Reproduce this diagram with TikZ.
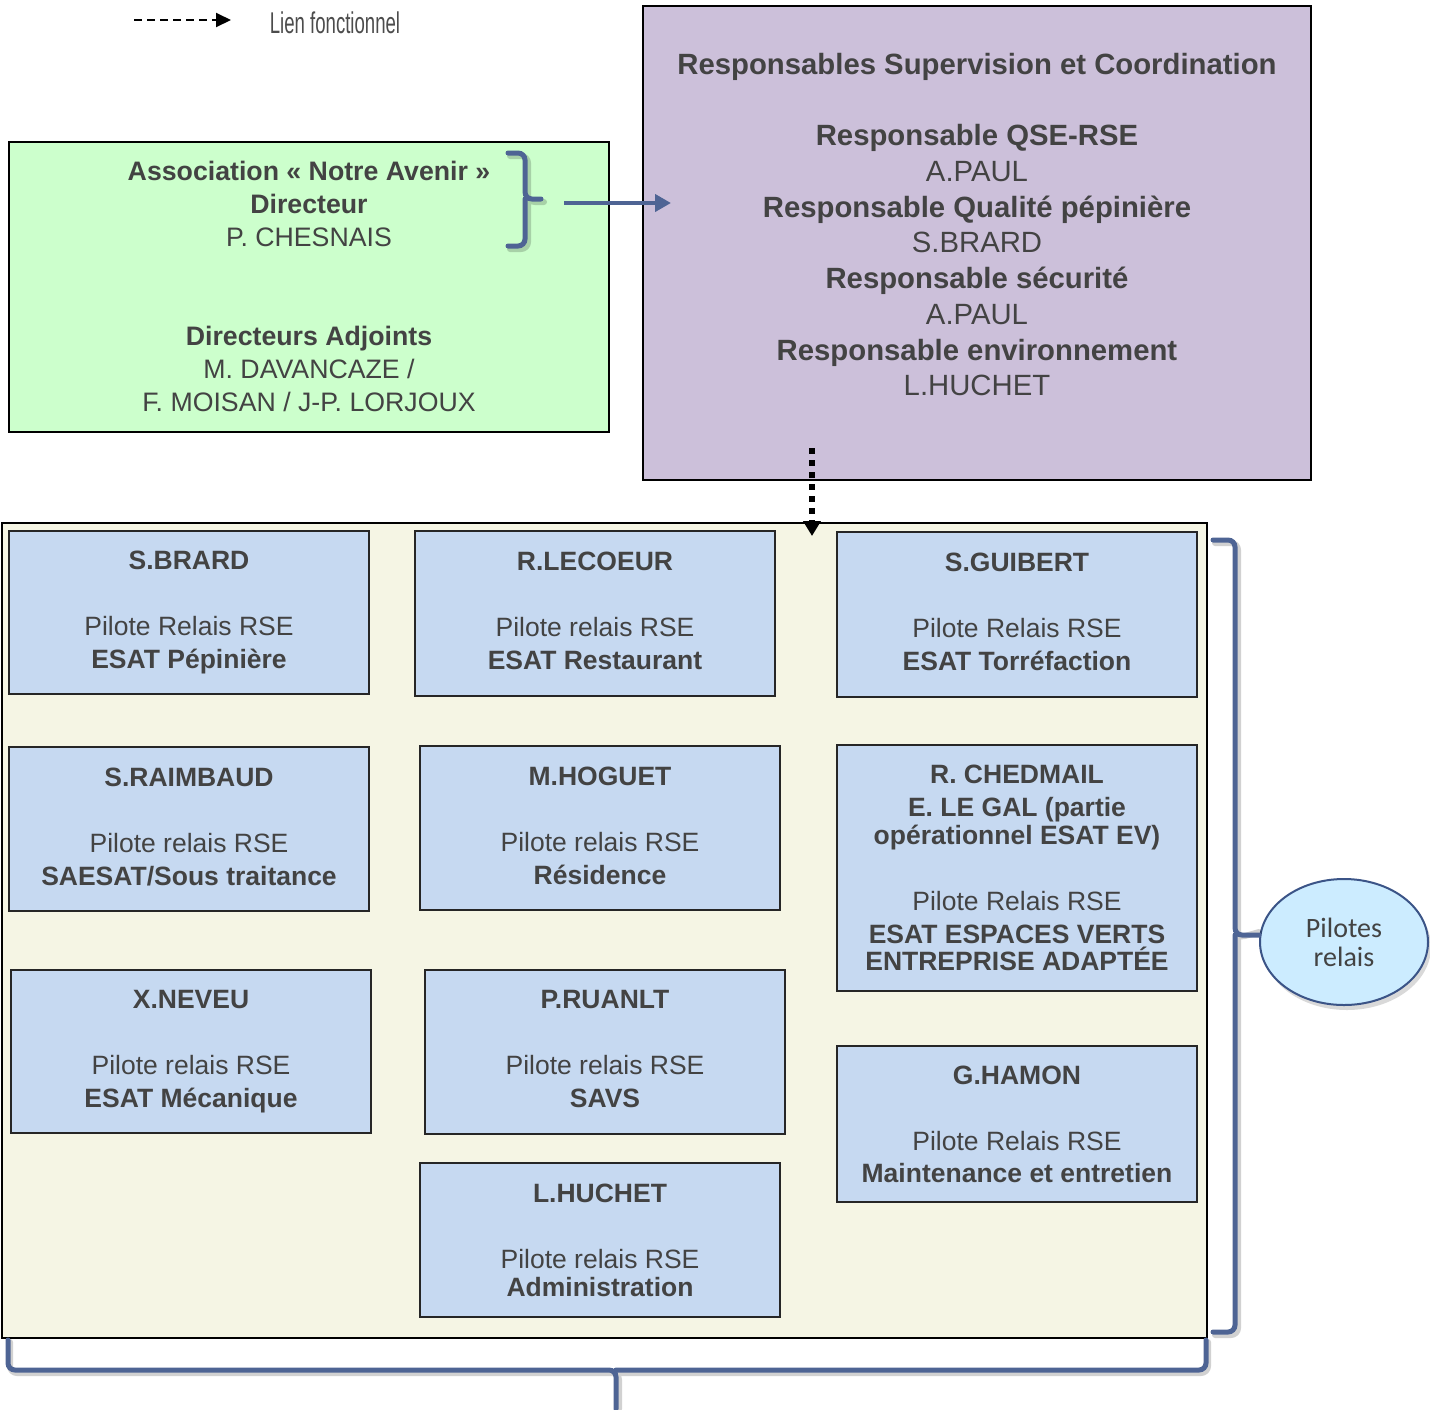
\documentclass[tikz,border=0pt]{standalone}
\usepackage{fontspec}
\setmainfont{Liberation Sans}
\newfontfamily\narrowfont[FakeStretch=0.62]{Liberation Sans}
\newfontfamily\calibfont{Carlito}
\usetikzlibrary{arrows.meta,shapes.geometric}

\definecolor{txt}{HTML}{434343}
\definecolor{greenfill}{HTML}{CCFFCC}
\definecolor{purplefill}{HTML}{CCC0DA}
\definecolor{tanfill}{HTML}{F5F5E4}
\definecolor{bluefill}{HTML}{C6D9F1}
\definecolor{bracecol}{HTML}{4E6494}
\definecolor{ellfill}{HTML}{CCECFF}
\definecolor{ellline}{HTML}{3B5487}

% descender strut so the short boxes centre their text the same way
\newcommand{\dsc}{\vphantom{p}}

\tikzset{
  pilotbox/.style={draw=black!85, fill=bluefill, line width=2pt, minimum width=360pt,
    inner sep=0pt, align=center, text=txt, font=\fontsize{26.5}{33}\selectfont},
  bigbox/.style={draw=black, line width=2pt, inner sep=0pt},
  bracepath/.style={draw=bracecol, line width=5pt, rounded corners=7pt, line cap=round},
  braceshadow/.style={draw=black, opacity=0.18, line width=6pt, rounded corners=7pt, line cap=round}
}

\begin{document}
\begin{tikzpicture}[x=1pt,y=-1pt]
\useasboundingbox (0,0) rectangle (1430,1409);

% legend
\coordinate (legA) at (134,20);
\coordinate (legB) at (231,20);
\draw[line width=2pt, dash pattern=on 8pt off 5pt, -{Triangle[length=15pt,width=14pt]}] (legA) -- (legB);
\node[text=black!70, font=\narrowfont\fontsize{30}{34}\selectfont] (legtext) at (335,23) {Lien fonctionnel};

% association box
\node[bigbox, fill=greenfill, minimum width=600pt, minimum height=290pt] (asso) at (309,287) {};
\node[align=center, text=txt, inner sep=0pt, font=\fontsize{26.7}{33}\selectfont] (assotext) at (309,286)
  {\textbf{Association « Notre Avenir »}\\ \textbf{Directeur}\\ P. CHESNAIS\\[66pt]
   \textbf{Directeurs Adjoints}\\ M. DAVANCAZE /\\ F. MOISAN / J-P. LORJOUX};

% supervision box
\node[bigbox, fill=purplefill, minimum width=668pt, minimum height=474pt] (rsc) at (977,243) {};
\node[anchor=north, align=center, text=txt, inner sep=0pt, font=\fontsize{29.3}{35.7}\selectfont] (rsctext) at (977,53)
  {\textbf{Responsables Supervision et Coordination}\\[35.7pt]
   \textbf{Responsable QSE-RSE}\\ A.PAUL\\
   \textbf{Responsable Qualité pépinière}\\ S.BRARD\\
   \textbf{Responsable sécurité}\\ A.PAUL\\
   \textbf{Responsable environnement}\\ L.HUCHET};

% brace inside the association box and arrow
\draw[braceshadow] (510,156) -- (528,156) -- (528,202) -- (544,202) (528,202) -- (528,249) -- (510,249);
\draw[bracepath] (508,153) -- (525,153) -- (525,199) -- (541,199) (525,199) -- (525,246) -- (508,246);
\coordinate (arrS) at (564,203);
\coordinate (arrE) at (671,203);
\draw[draw=bracecol, line width=4.5pt, -{Triangle[length=16pt,width=17pt]}] (arrS) -- (arrE);

% pilots area
\node[bigbox, fill=tanfill, minimum width=1205pt, minimum height=815pt] (area) at (604.5,930.5) {};

% functional link
\coordinate (dotS) at (812,448);
\coordinate (dotE) at (812,536);
\draw[line width=6pt, dash pattern=on 6pt off 6pt, -{Triangle[length=15pt,width=17pt]}] (dotS) -- (dotE);

% pilot boxes
\node[pilotbox, minimum height=163pt] (p1) at (189,612.5)
  {\textbf{S.BRARD}\\[33pt] Pilote Relais RSE\\ \textbf{ESAT Pépinière}\dsc};
\node[pilotbox, minimum height=165pt] (p2) at (595,613.5)
  {\textbf{R.LECOEUR}\\[33pt] Pilote relais RSE\\ \textbf{ESAT Restaurant}\dsc};
\node[pilotbox, minimum height=165pt] (p3) at (1017,614.5)
  {\textbf{S.GUIBERT}\\[33pt] Pilote Relais RSE\\ \textbf{ESAT Torréfaction}\dsc};
\node[pilotbox, minimum height=164pt] (p4) at (189,829)
  {\textbf{S.RAIMBAUD}\\[33pt] Pilote relais RSE\\ \textbf{SAESAT/Sous traitance}\dsc};
\node[pilotbox, minimum height=164pt] (p5) at (600,828)
  {\textbf{M.HOGUET}\\[33pt] Pilote relais RSE\\ \textbf{Résidence}\dsc};
\node[pilotbox, minimum height=246pt] (p6) at (1017,868)
  {\textbf{R. CHEDMAIL}\\ \textbf{E. LE GAL (partie}\\[-5pt] \textbf{opérationnel ESAT EV)}\\[33pt]
   Pilote Relais RSE\\ \textbf{ESAT ESPACES VERTS}\\[-6pt] \textbf{ENTREPRISE ADAPTÉE}};
\node[pilotbox, minimum height=163pt] (p7) at (191,1051.5)
  {\textbf{X.NEVEU}\\[33pt] Pilote relais RSE\\ \textbf{ESAT Mécanique}\dsc};
\node[pilotbox, minimum height=164pt] (p8) at (605,1052)
  {\textbf{P.RUANLT}\\[33pt] Pilote relais RSE\\ \textbf{SAVS}\dsc};
\node[pilotbox, minimum height=156pt] (p9) at (1017,1124)
  {\textbf{G.HAMON}\\[33pt] Pilote Relais RSE\\[-1pt] \textbf{Maintenance et entretien}};
\node[pilotbox, minimum height=154pt] (p10) at (600,1240)
  {\textbf{L.HUCHET}\\[33pt] Pilote relais RSE\\[-5pt] \textbf{Administration}};

% pilots label, with a soft drop shadow
\fill[black, opacity=0.15] (1347,947) ellipse [x radius=84pt, y radius=63pt];
\node[ellipse, draw=ellline, fill=ellfill, line width=2pt, minimum width=168pt, minimum height=126pt,
      align=center, text=txt, inner sep=0pt, font=\calibfont\fontsize{28}{29}\selectfont] (pil) at (1344,942)
  {Pilotes\\relais};

% right brace
\coordinate (rtip) at (1235,935);
\draw[braceshadow] (1215,543) -- (1238,543) -- (1238,938) -- ([yshift=3pt]rtip -| pil.west) (1238,938) -- (1238,1335) -- (1215,1335);
\draw[bracepath] (1213,540) -- (1235,540) -- (rtip) -- (rtip -| pil.west) (rtip) -- (1235,1332) -- (1213,1332);

% bottom brace
\draw[braceshadow] (10,1342) -- (10,1373) -- (619,1373) -- (619,1409) (619,1373) -- (1208,1373) -- (1208,1342);
\draw[bracepath] (8,1340) -- (8,1370) -- (616,1370) -- (616,1409) (616,1370) -- (1206,1370) -- (1206,1340);
\end{tikzpicture}
\end{document}
